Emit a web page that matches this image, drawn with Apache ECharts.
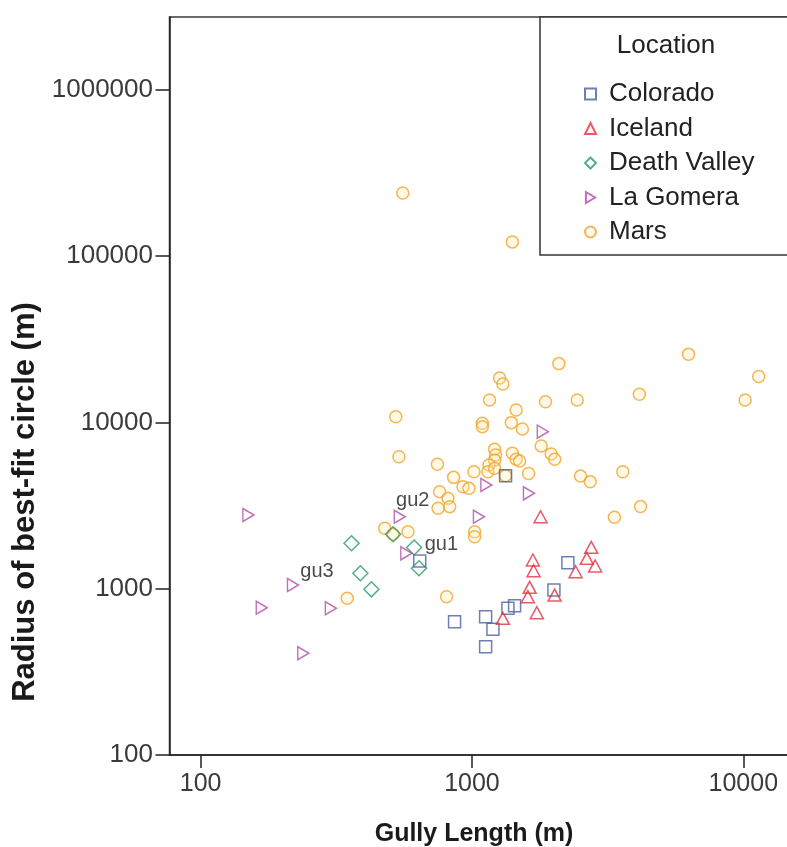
<!DOCTYPE html>
<html>
<head>
<meta charset="utf-8">
<script src="https://cdn.jsdelivr.net/npm/echarts@6/dist/echarts.min.js"></script>
<style>
html,body{margin:0;padding:0;background:#fff;}
#chart{width:787px;height:847px;}
</style>
</head>
<body>
<div id="chart"></div>
<script>
// ---- data: [Gully Length (m), Radius of best-fit circle (m)] ----
const seriesNames = ['Colorado', 'Iceland', 'Death Valley', 'La Gomera', 'Mars'];
const xTicks = [100, 1000, 10000];
const yTicks = [100, 1000, 10000, 100000, 1000000];

const coloradoData = [
  [2257,1435],[2005,983],[1436,791],[1357,763],[1123,679],[1195,570],
  [863,634],[1123,448],[642,1470],[1330,4790]
];
const icelandData = [
  [2752,1775],[2650,1524],[2845,1371],[2410,1266],[1677,1489],[1687,1284],
  [1632,1020],[1607,896],[1734,718],[2016,916],[1300,664],[1790,2710]
];
const deathValleyData = [
  [360,1877],[388,1239],[426,992],[512,2126],[612,1770],[638,1328]
];
const laGomeraData = [
  [150,2777],[168,769],[219,1053],[239,409],[302,763],[542,2710],
  [573,1633],[1061,2710],[1130,4207],[1622,3750],[1824,8810]
];
const laGomeraLabels = ['', '', 'gu3', '', '', 'gu2', 'gu1', '', '', '', ''];
const marsData = [
  [556,240000],[1409,122000],[6280,25700],[2090,22600],[11400,18900],[10160,13650],
  [4140,14800],[1867,13330],[2444,13650],[1265,18530],[1300,17050],[1161,13650],
  [1455,11880],[1397,9980],[1534,9140],[1092,9890],[1092,9440],[524,10840],
  [1800,7230],[1959,6470],[2018,6010],[1409,6527],[1455,6010],[1498,5865],
  [1617,4940],[1330,4790],[2513,4760],[2728,4400],[3597,5060],[4180,3120],
  [3350,2690],[538,6220],[746,5608],[1212,6900],[1222,6375],[1212,5940],
  [1155,5546],[1017,5060],[1145,5060],[1212,5302],[856,4677],[927,4110],
  [975,4017],[760,3837],[816,3500],[828,3117],[750,3048],[1023,2203],
  [1023,2056],[806,896],[477,2310],[581,2203],[347,876],[512,2126]
];

// ---- styling ----
const FONT = 'Liberation Sans, Arial, sans-serif';
const colors = ['#4a5fa3', '#e2323e', '#2a9a68', '#b04ea8', '#f2a32e'];
const labelOffsets = { gu1: [35, -9], gu2: [13, -16], gu3: [24, -14] };

function hollow(color, fill) {
  return { color: fill || 'rgba(255,255,255,0)', borderColor: color, borderWidth: 1.5 };
}

const lgData = laGomeraData.map((d, i) => {
  const lab = laGomeraLabels[i];
  const item = { value: d };
  if (lab) {
    item.label = {
      show: true, formatter: lab, position: 'inside', offset: labelOffsets[lab],
      color: '#1a1a1a', fontSize: 20, fontFamily: FONT
    };
  }
  return item;
});

const series = [
  { name: seriesNames[0], type: 'scatter', data: coloradoData, symbol: 'rect', symbolSize: 12,
    itemStyle: hollow(colors[0]), z: 3 },
  { name: seriesNames[1], type: 'scatter', data: icelandData, symbol: 'triangle', symbolSize: [13, 12],
    itemStyle: hollow(colors[1]), z: 3 },
  { name: seriesNames[2], type: 'scatter', data: deathValleyData, symbol: 'diamond', symbolSize: 15,
    itemStyle: hollow(colors[2]), z: 3 },
  { name: seriesNames[3], type: 'scatter', data: lgData, symbol: 'path://M0,0L10,6L0,12Z', symbolSize: [11, 13],
    itemStyle: hollow(colors[3]), z: 3 },
  { name: seriesNames[4], type: 'scatter', data: marsData, symbol: 'circle', symbolSize: 12,
    itemStyle: hollow(colors[4], 'rgba(255,236,170,0.35)'), z: 2 }
];

const chart = echarts.init(document.getElementById('chart'), null, { renderer: 'canvas' });
chart.setOption({
  backgroundColor: '#ffffff',
  animation: false,
  textStyle: { fontFamily: FONT },
  grid: {
    left: 169.5, top: 17, width: 630.5, height: 738,
    outerBoundsMode: 'none', containLabel: false,
    show: true, borderColor: '#3a3a3a', borderWidth: 1.5, backgroundColor: '#fff'
  },
  xAxis: {
    type: 'log', logBase: 10, min: 76.8, max: 16180,
    name: 'Gully Length (m)', nameLocation: 'middle', nameGap: 67,
    nameTextStyle: { fontSize: 25, fontWeight: 'bold', color: '#1a1a1a', fontFamily: FONT, padding: [0, 21.5, 0, 0] },
    axisLine: { show: true, lineStyle: { color: '#222', width: 1.5 } },
    axisTick: { show: true, length: 13, customValues: xTicks, lineStyle: { color: '#222', width: 1.5 } },
    axisLabel: { customValues: xTicks, margin: 17, fontSize: 25, color: '#3a3a3a', fontFamily: FONT,
      formatter: v => String(Math.round(v)) },
    splitLine: { show: false }, minorTick: { show: false }
  },
  yAxis: {
    type: 'log', logBase: 10, min: 100, max: 2748000,
    axisLine: { show: true, lineStyle: { color: '#222', width: 1.5 } },
    axisTick: { show: true, length: 14, customValues: yTicks, lineStyle: { color: '#222', width: 1.5 } },
    axisLabel: { customValues: yTicks, margin: 16.5, fontSize: 26, color: '#3a3a3a', fontFamily: FONT,
      formatter: v => String(Math.round(v)) },
    splitLine: { show: false }, minorTick: { show: false }
  },
  legend: {
    orient: 'vertical', left: 579, top: 76, itemWidth: 11, itemHeight: 11, itemGap: 8.5,
    data: seriesNames,
    textStyle: { fontSize: 26, lineHeight: 26, color: '#222', fontFamily: FONT, padding: [0, 0, 0, 8] }
  },
  graphic: [
    { type: 'rect', z: 1, shape: { x: 540, y: 17, width: 270, height: 238 },
      style: { fill: '#fff', stroke: '#333', lineWidth: 1.5 } },
    { type: 'text', z: 2, x: 666, y: 46,
      style: { text: 'Location', fontSize: 26, fontFamily: FONT, fill: '#222', align: 'center', verticalAlign: 'middle' } },
    { type: 'text', z: 2, x: 25, y: 502, rotation: Math.PI / 2,
      style: { text: 'Radius of best-fit circle (m)', fontSize: 31, fontWeight: 'bold', fontFamily: FONT,
        fill: '#1a1a1a', align: 'center', verticalAlign: 'middle' } }
  ],
  series: series
});
</script>
</body>
</html>
